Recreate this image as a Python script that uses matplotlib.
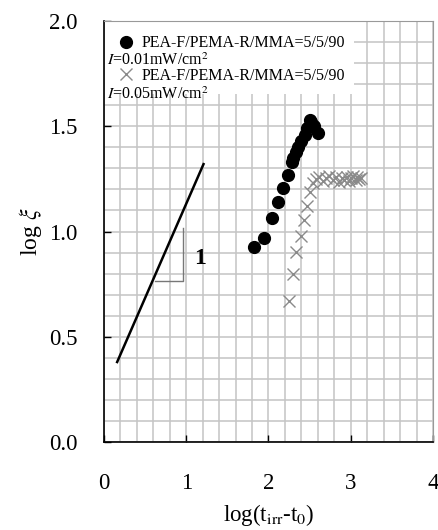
import matplotlib.pyplot as plt
from matplotlib.ticker import MultipleLocator
from matplotlib.patches import Rectangle

plt.rcParams['font.family'] = ['Liberation Serif', 'DejaVu Serif']
plt.rcParams['mathtext.fontset'] = 'stix'

# I = 0.01 mW/cm2 (黒丸)
x_001 = [1.82, 1.94, 2.04, 2.12, 2.18, 2.24, 2.28, 2.30, 2.33, 2.36, 2.40, 2.44, 2.47, 2.50, 2.52, 2.55, 2.60]
y_001 = [0.925, 0.968, 1.063, 1.14, 1.205, 1.268, 1.33, 1.35, 1.38, 1.40, 1.43, 1.46, 1.49, 1.53, 1.52, 1.50, 1.47]

# I = 0.05 mW/cm2 (灰色 x)
x_005 = [2.25, 2.30, 2.34, 2.39, 2.43, 2.465, 2.505, 2.545, 2.58, 2.62, 2.66, 2.70, 2.74, 2.78, 2.82, 2.86,
         2.89, 2.92, 2.95, 2.98, 3.00, 3.03, 3.06, 3.08, 3.10, 3.12]
y_005 = [0.67, 0.80, 0.903, 0.979, 1.055, 1.121, 1.189, 1.229, 1.25, 1.26, 1.24, 1.255, 1.265, 1.245, 1.26, 1.235,
         1.255, 1.245, 1.26, 1.24, 1.255, 1.265, 1.245, 1.26, 1.25, 1.255]

# 傾き線と三角形
slope_x = [0.16, 1.21]
slope_y = [0.38, 1.32]
tri_x = [0.62, 0.965, 0.965]
tri_y = [0.766, 0.766, 1.015]

labels = ['PEA-F/PEMA-R/MMA=5/5/90', 'PEA-F/PEMA-R/MMA=5/5/90']
intensity = [r'$I$=0.01mW/cm$^2$', r'$I$=0.05mW/cm$^2$']

fig = plt.figure(figsize=(4.38, 5.30), dpi=100)
ax = fig.add_axes([0.2374, 0.166, 0.7512, 0.7944])
ax.set_xlim(0, 4); ax.set_ylim(0, 2)
ax.xaxis.set_major_locator(MultipleLocator(1)); ax.xaxis.set_minor_locator(MultipleLocator(0.2))
ax.yaxis.set_major_locator(MultipleLocator(0.5)); ax.yaxis.set_minor_locator(MultipleLocator(0.1))
ax.set_yticklabels([f'{v:.1f}' for v in ax.get_yticks()])
ax.grid(True, which='both', color='#c4c4c4', linewidth=1.1)
ax.set_axisbelow(True)
ax.tick_params(which='major', direction='in', length=5, width=1, labelsize=16.5, top=False, right=False)
ax.tick_params(axis='x', pad=22); ax.tick_params(axis='y', pad=19)
ax.tick_params(which='minor', length=0)
for s in ['top', 'right']: ax.spines[s].set_color('#999999')
for s in ['left', 'bottom']: ax.spines[s].set_linewidth(1.2)

ax.add_patch(Rectangle((0.003, 0.827), 0.757, 0.17, transform=ax.transAxes, facecolor='white', edgecolor='none', zorder=1))

ax.plot(x_001, y_001, 'o', color='black', markersize=8.5, label=labels[0], zorder=3)
ax.plot(x_005, y_005, 'x', color='#8a8a8a', markersize=8, markeredgewidth=1.0, label=labels[1], zorder=3)
ax.plot(slope_x, slope_y, color='black', linewidth=1.8, zorder=3)
ax.plot(tri_x, tri_y, color='#777777', linewidth=1.0, zorder=3)
ax.text(1.09, 0.87, '1', fontsize=17, fontweight='bold', va='center', ha='left')

ax.legend(loc='upper left', bbox_to_anchor=(0.018, 0.985), frameon=False, fontsize=11.5, handlelength=1.0,
          handletextpad=0.5, labelspacing=1.05, borderaxespad=0.3, borderpad=0.2)
ax.text(0.009, 0.906, intensity[0], transform=ax.transAxes, fontsize=11.5, va='center', ha='left')
ax.text(0.009, 0.826, intensity[1], transform=ax.transAxes, fontsize=11.5, va='center', ha='left')

ax.set_xlabel(r'log(t$_{\rm irr}$-t$_0$)', fontsize=16.5, labelpad=6)
ax.set_ylabel(r'log $\xi$', fontsize=17, labelpad=4)

fig.savefig('out.png', dpi=100)
